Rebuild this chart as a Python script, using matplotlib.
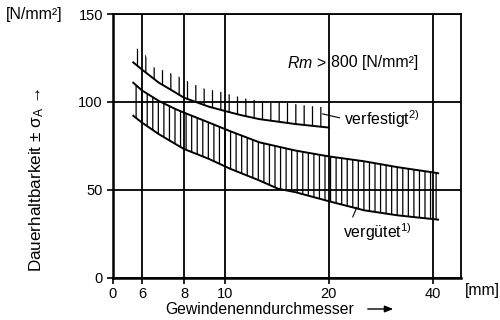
import numpy as np
import matplotlib
matplotlib.use("Agg")
import matplotlib.pyplot as plt

plt.rcParams['font.family'] = ['Liberation Sans', 'DejaVu Sans']
plt.rcParams['mathtext.fontset'] = 'custom'
plt.rcParams['mathtext.rm'] = 'Liberation Sans'
plt.rcParams['mathtext.it'] = 'Liberation Sans:italic'
plt.rcParams['hatch.color'] = 'black'
plt.rcParams['hatch.linewidth'] = 0.9

# Daten
x_tick_vals = [0, 6, 8, 10, 20, 40]
y_tick_vals = [0, 50, 100, 150]

# verfestigt: untere Kurve und Oberkante der Schraffur
x_verf = [5.5, 6, 6.8, 7.6, 8, 9.2, 10, 11.5, 13.3, 16.8, 20]
y_verf_unten = [122.5, 118.5, 111, 105.3, 102.4, 97.3, 94.8, 92.5, 90.2, 87.4, 85.4]
x_verf_top = [5.5, 6.16, 6.5, 7.1, 7.7, 8.4, 9, 9.7, 10.6, 11.9, 13.3, 15.2, 16.8, 18.1, 20]
y_verf_top = [132, 127, 120, 117.6, 114.7, 110.4, 107.5, 106, 104, 102, 100.6, 100, 98.7, 97.7, 96.8]

# vergütet: Band
x_verg_oben = [5.5, 6, 6.8, 7.6, 8, 9.2, 10.5, 13.3, 16.8, 20, 26.8, 33.3, 39.7, 41.5]
y_verg_oben = [110.9, 106.6, 100.6, 95.9, 93.9, 88.3, 83.3, 77, 72.3, 69, 66.2, 62.8, 60, 59.4]
x_verg_unten = [5.5, 6, 6.8, 7.6, 8, 9.2, 10.5, 13.3, 15.1, 16.8, 20, 26.8, 33.3, 41.5]
y_verg_unten = [92.1, 88.3, 81.7, 76, 73.2, 67.6, 61.9, 55.3, 50.6, 48.6, 43.5, 38.3, 35.4, 33]

# Achsenteilung (Gewindedurchmesser -> Position), nicht linear
XK = [0, 5, 6, 8, 10, 20, 40, 50]
PK = [0, 12, 29, 71, 112, 215, 319, 352]


def fwd(x):
    return np.interp(x, XK, PK)


def inv(p):
    return np.interp(p, PK, XK)


fig = plt.figure(figsize=(5, 3.2), dpi=100)
ax = fig.add_axes([0.2254, 0.1325, 0.6966, 0.8235])
ax.set_xscale('function', functions=(fwd, inv))
ax.set_xlim(0, 48.4)
ax.set_ylim(0, 150)

ax.set_xticks(x_tick_vals)
ax.set_yticks(y_tick_vals)
ax.xaxis.set_minor_locator(matplotlib.ticker.NullLocator())
ax.yaxis.set_minor_locator(matplotlib.ticker.NullLocator())
ax.tick_params(direction='out', length=4, width=1.2, labelsize=10.5, pad=3, colors='black')
ax.grid(True, color='black', lw=1.3)
ax.set_axisbelow(True)
for s in ax.spines.values():
    s.set_linewidth(1.3)
ax.spines['left'].set_linewidth(1.8)
ax.spines['bottom'].set_linewidth(1.8)

# Schraffuren (Kanten auf gemeinsames x gebracht)
xv = np.array(x_verf_top)
ax.fill_between(xv, np.interp(xv, x_verf, y_verf_unten), y_verf_top, facecolor='none',
                edgecolor='black', linewidth=0, hatch='||')
xg = np.array(x_verg_unten)
ax.fill_between(xg, y_verg_unten, np.interp(xg, x_verg_oben, y_verg_oben), facecolor='none',
                edgecolor='black', linewidth=0, hatch='|||')

ax.plot(x_verf, y_verf_unten, color='black', lw=1.4)
ax.plot(x_verg_oben, y_verg_oben, color='black', lw=1.4)
ax.plot(x_verg_unten, y_verg_unten, color='black', lw=1.4)

# Beschriftungen im Diagramm
ax.annotate(r"$\it{Rm}$ >", xy=(20, 122.3), xytext=(-1.2, 0), textcoords='offset points',
            ha='right', va='center', fontsize=11.4)
ax.annotate("800 [N/mm²]", xy=(20, 122.3), xytext=(1.5, 0), textcoords='offset points',
            ha='left', va='center', fontsize=11.4)

ax.annotate(r"verfestigt$^{\mathrm{2)}}$", xy=(19.4, 93.2), xytext=(22.9, 90.4),
            va='center', ha='left', fontsize=11.4,
            arrowprops=dict(arrowstyle='-', lw=0.8, color='black', shrinkA=1, shrinkB=0,
                            relpos=(0, 0.5)))
ax.annotate(r"vergütet$^{\mathrm{1)}}$", xy=(25.4, 40.1), xytext=(22.7, 26),
            va='center', ha='left', fontsize=11.4,
            arrowprops=dict(arrowstyle='-', lw=0.8, color='black', shrinkA=1, shrinkB=0,
                            relpos=(0.12, 1.0)))

# Achsentitel
fig.text(6 / 500, 1 - 14 / 320, "[N/mm²]", fontsize=11.5, va='center', ha='left')
fig.text(465 / 500, 1 - 291 / 320, "[mm]", fontsize=11.3, va='center', ha='left')
fig.text(37 / 500, 1 - 180 / 320, r"Dauerhaltbarkeit ± σ$_{\mathrm{A}}$ →", fontsize=12.3,
         rotation=90, va='center', ha='center')
fig.text(165 / 500, 1 - 309 / 320, "Gewindenenndurchmesser", fontsize=11.3,
         va='center', ha='left')
fig.add_artist(matplotlib.patches.FancyArrowPatch(
    (365 / 500, 1 - 309 / 320), (396 / 500, 1 - 309 / 320), transform=fig.transFigure,
    arrowstyle='-|>,head_length=5,head_width=2', lw=1, color='black'))

fig.savefig('out.png', dpi=100)
